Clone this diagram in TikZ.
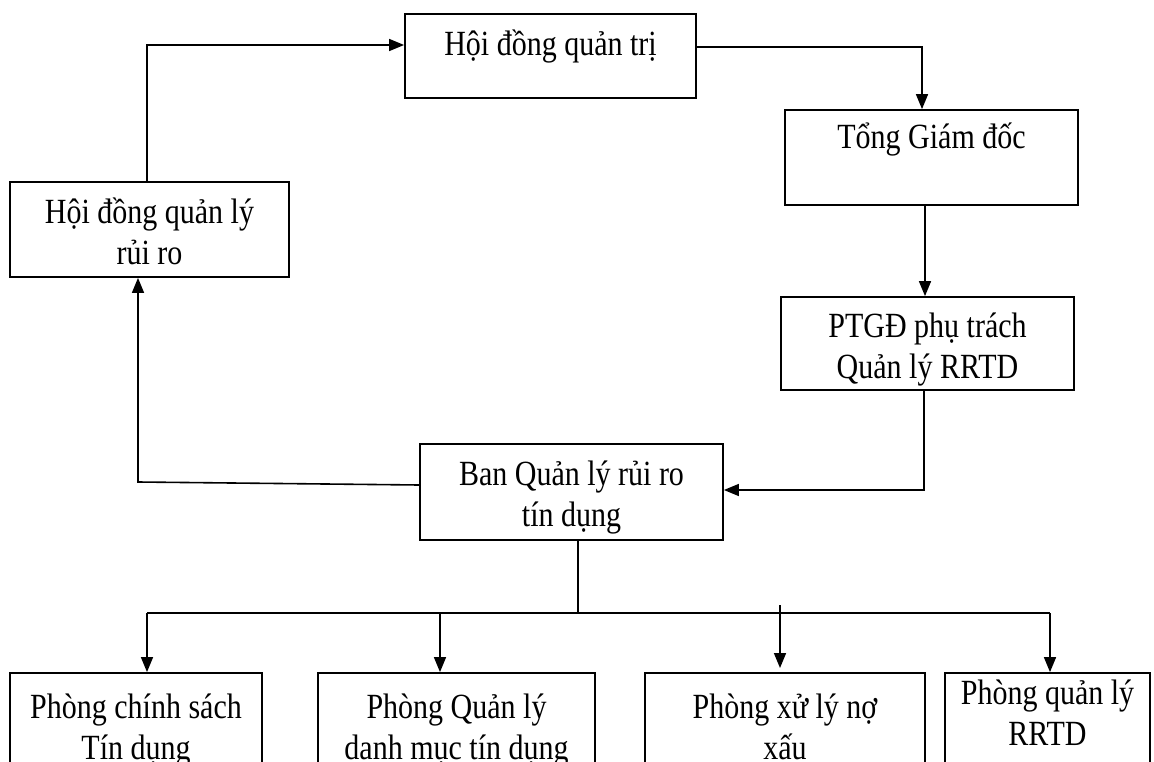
\documentclass[tikz,border=0pt]{standalone}
\usepackage{fontspec}
\usepackage{graphicx}
\setmainfont{Liberation Serif}
\usetikzlibrary{arrows.meta}
% tall serif lines, stacked and centred
\newcommand\talltext[1]{\scalebox{1}[1.18]{\begin{tabular}{@{}c@{}}#1\end{tabular}}}
\begin{document}
\begin{tikzpicture}[x=1pt,y=-1pt,
  box/.style={draw,line width=1.8pt,rectangle,inner sep=0pt},
  lbl/.style={inner sep=0pt,font=\fontsize{30}{34.5}\selectfont},
  conn/.style={line width=1.6pt},
  arr/.style={conn,-{Triangle[length=15pt,width=12pt]}}]
\useasboundingbox (0,0) rectangle (1154,762);
% boxes
\node[box,minimum width=291pt,minimum height=84pt] (hdqt) at (550.5,56) {};
\node[lbl] (thdqt) at (550.5,47) {\talltext{Hội đồng quản trị}};
\node[box,minimum width=293pt,minimum height=95pt] (tgd) at (931.5,157.5) {};
\node[lbl] (ttgd) at (931.5,140) {\talltext{Tổng Giám đốc}};
\node[box,minimum width=279pt,minimum height=95pt] (hdql) at (149.5,229.5) {};
\node[lbl] (thdql) at (149.5,236) {\talltext{Hội đồng quản lý\\rủi ro}};
\node[box,minimum width=293pt,minimum height=93pt] (ptgd) at (927.5,343.5) {};
\node[lbl] (tptgd) at (927.5,350) {\talltext{PTGĐ phụ trách\\Quản lý RRTD}};
\node[box,minimum width=303pt,minimum height=96pt] (ban) at (571.5,492) {};
\node[lbl] (tban) at (571.5,498) {\talltext{Ban Quản lý rủi ro\\tín dụng}};
% departments (boxes run past the lower edge)
\node[box,minimum width=252pt,minimum height=120pt] (p1) at (136,733) {};
\node[lbl] (tp1) at (136,731) {\talltext{Phòng chính sách\\Tín dụng}};
\node[box,minimum width=277pt,minimum height=120pt] (p2) at (456.5,733) {};
\node[lbl] (tp2) at (456.5,731) {\talltext{Phòng Quản lý\\danh mục tín dụng}};
\node[box,minimum width=280pt,minimum height=120pt] (p3) at (785,733) {};
\node[lbl] (tp3) at (785,731) {\talltext{Phòng xử lý nợ\\xấu}};
\node[box,minimum width=205pt,minimum height=120pt] (p4) at (1047.5,733) {};
\node[lbl] (tp4) at (1047.5,717) {\talltext{Phòng quản lý\\RRTD}};
% coordinates for routing
\coordinate (c1) at (147,45);
\coordinate (c2) at (922,47);
\coordinate (c3) at (924,490);
\coordinate (c4) at (138,482);
\coordinate (bt) at (578,613);
\coordinate (bl) at (147,613);
\coordinate (br) at (1050,613);
% connectors
\draw[arr] (hdql.north -| c1) -- (c1) -- (hdqt.west |- c1);
\draw[arr] (hdqt.east |- c2) -- (c2) -- (tgd.north -| c2);
\draw[arr] (tgd.south -| 925,0) -- (ptgd.north -| 925,0);
\draw[arr] (ptgd.south -| c3) -- (c3) -- (ban.east |- c3);
\draw[arr] (ban.west |- 0,485) -- (c4) -- (hdql.south -| c4);
\draw[conn] (ban.south -| bt) -- (bt);
\draw[conn] (bl) -- (br);
\draw[arr] (bl) -- (p1.north -| bl);
\draw[arr] (440,613) -- (p2.north -| 440,0);
\draw[arr] (780,605) -- (780,668);
\draw[arr] (br) -- (p4.north -| br);
\end{tikzpicture}
\end{document}
